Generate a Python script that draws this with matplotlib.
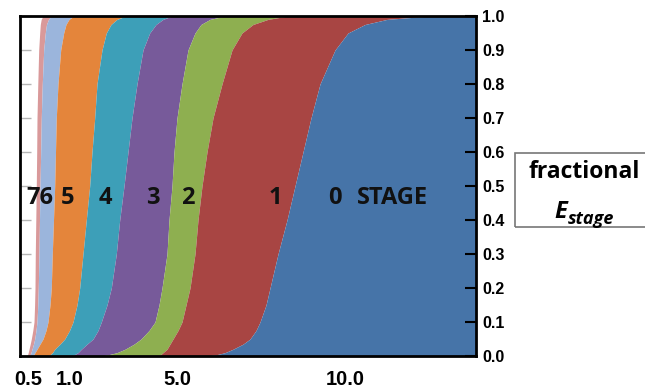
import numpy as np
import matplotlib.pyplot as plt
from matplotlib.patches import Rectangle

# fraction levels (y) at which each stage boundary was read
levels = [0.0, 0.005, 0.01, 0.02, 0.035, 0.05, 0.075, 0.1, 0.15, 0.2, 0.3,
          0.4, 0.5, 0.6, 0.7, 0.8, 0.9, 0.95, 0.975, 0.99, 1.0]

# x position of each boundary (left edge of the stage band) at those levels
edge7 = [7.3, 7.7, 8.2, 9, 10.2, 11.3, 12.8, 14, 14.6, 15, 15.3,
         15.8, 16.3, 16.7, 17, 17.8, 18.7, 19.7, 20.3, 21.2, 23]
edge6 = [9.7, 10.3, 11, 12, 13.5, 14.7, 16, 17, 17.8, 18.3, 19,
         19.5, 20, 20.7, 21.3, 22.3, 23.7, 25.3, 26.5, 28.5, 31]
edge5 = [13, 14, 15, 17, 20, 23, 26, 28, 30, 31.3, 32.3,
         33.5, 34.7, 35.5, 36.3, 38, 40.7, 43.7, 46, 49, 54]
edge4 = [28, 30.5, 32.5, 34.7, 40, 44.7, 49.5, 53, 57, 59.7, 63,
         66.3, 69.7, 72, 74.7, 77, 82, 86.3, 91, 97, 106]
edge3 = [51, 55, 58, 61.3, 67, 73, 78, 81.3, 87, 91.3, 96.3,
         99.7, 104, 108, 112, 117, 123, 129.7, 136, 143, 152]
edge2 = [81, 90, 97, 105, 114, 121, 129, 135, 139, 142, 147,
         149, 152, 154, 157, 162, 168, 175, 181, 190, 205]
edge1 = [138, 141, 143, 147, 150, 153, 158, 162, 166, 170, 175,
         178, 182, 187, 193, 202, 212, 222, 233, 248, 268]
edge0 = [187, 198, 205, 213, 223, 230, 236, 240, 246, 250, 258,
         267, 275, 283, 291, 300, 315, 328, 345, 367, 410]
x_max = 456

stage_labels = ['76', '5', '4', '3', '2', '1', '0']
colors = ['#d9999a', '#9bb5dc', '#e4853b', '#3d9fb8', '#775a9a', '#8eaf50', '#a84543', '#4674a8']
label_x = [19.5, 48, 85, 133, 168, 255, 315]

xtick_pos = [8, 50, 157, 325]
xtick_lab = ['0.5', '1.0', '5.0', '10.0']

fig = plt.figure(figsize=(6.45, 3.9), dpi=100)
ax = fig.add_axes([0.031, 0.087, 0.707, 0.872])

y = np.array(levels)
edges = [edge7, edge6, edge5, edge4, edge3, edge2, edge1, edge0, [x_max] * len(levels)]
for i in range(8):
    ax.fill_betweenx(y, edges[i], edges[i + 1], color=colors[i], lw=0)

ax.set_xlim(0, x_max)
ax.set_ylim(0, 1)

for s, xp in zip(stage_labels, label_x):
    ax.text(xp, 0.465, s, ha='center', va='center', fontsize=17,
            fontweight='bold', family='Open Sans', color='#111111')
ax.text(372, 0.465, 'STAGE', ha='center', va='center', fontsize=17,
        fontweight='bold', family='Open Sans', color='#111111')

ax.yaxis.tick_right()
ax.set_yticks(np.arange(0, 1.01, 0.1))
ax.set_yticklabels([f'{v:.1f}' for v in np.arange(0, 1.01, 0.1)])
ax.tick_params(axis='y', direction='in', length=8, width=1.5, pad=4.5,
               labelsize=11.5)
for t in ax.get_yticklabels():
    t.set_fontweight('bold')
    t.set_family('Liberation Sans')

ax.set_xticks(xtick_pos)
ax.set_xticklabels(xtick_lab)
ax.tick_params(axis='x', length=0, pad=10, labelsize=14.5)
for t in ax.get_xticklabels():
    t.set_fontweight('bold')
    t.set_family('Liberation Sans')

sec = ax.secondary_yaxis('left')
sec.set_yticks(np.arange(0, 1.01, 0.1))
sec.tick_params(direction='in', length=8, width=1, color='#b5b5b5', labelleft=False)
sec.spines['left'].set_visible(False)

for sp in ax.spines.values():
    sp.set_linewidth(2)
    sp.set_color('black')

# label box on the right
box = Rectangle((0.798, 0.418), 0.25, 0.19, transform=fig.transFigure,
                fill=False, ec='#777777', lw=1.2, clip_on=False)
fig.patches.append(box)
fig.text(0.905, 0.543, 'fractional', ha='center', va='baseline', fontsize=16.5,
         fontweight='bold', family='Open Sans')
fig.text(0.880, 0.441, 'E', ha='right', va='baseline', fontsize=17,
         fontweight='bold', style='italic', family='Open Sans')
fig.text(0.880, 0.425, 'stage', ha='left', va='baseline', fontsize=13,
         fontweight='bold', style='italic', family='Open Sans')

fig.savefig('out.png', dpi=100)
